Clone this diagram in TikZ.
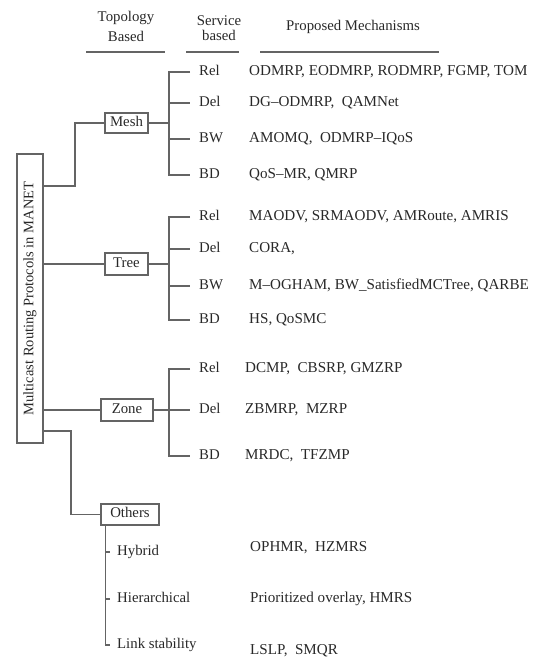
\documentclass[tikz,border=0pt]{standalone}
\usepackage{fontspec}
\setmainfont{Liberation Serif}
\definecolor{lc}{RGB}{100,100,100}
\definecolor{txt}{RGB}{40,40,40}
\begin{document}
\begin{tikzpicture}[x=1pt,y=-1pt,
  every node/.style={font=\fontsize{14.8}{17}\selectfont, text=txt},
  ln/.style={draw=lc, line width=1.2pt},
  lab/.style={inner sep=0pt, anchor=west, text height=0.662em, text depth=0pt},
  mech/.style={lab, font=\fontsize{15.1}{17}\selectfont},
  box/.style={draw=lc, line width=1.2pt, inner sep=0pt, text height=0.662em, text depth=0pt, minimum height=21pt},
]
\useasboundingbox (0,0) rectangle (536,660);

% header
\node[align=center, font=\fontsize{14.8}{20}\selectfont] (htop) at (126,26) {Topology\\Based};
\node[align=center, font=\fontsize{14.8}{15}\selectfont] (hserv) at (219,28.4) {Service\\based};
\node[lab, anchor=center] (hprop) at (353,27) {Proposed Mechanisms};
\draw[ln] (86,52) -- (165,52);
\draw[ln] (186,52) -- (239,52);
\draw[ln] (260,52) -- (439,52);

% root
\node[box, rotate=90, minimum width=289pt, minimum height=26pt, font=\fontsize{14.5}{17}\selectfont] (root) at (30,298.5) {Multicast Routing Protocols in MANET};

% level boxes
\node[box, minimum width=43pt, minimum height=20pt] (mesh) at (126.5,123) {Mesh};
\node[box, minimum width=43pt, minimum height=22pt] (tree) at (126.5,264) {Tree};
\node[box, minimum width=52pt, minimum height=22pt] (zone) at (127,410) {Zone};
\node[box, minimum width=58pt, minimum height=21pt] (others) at (130,514.5) {Others};

\coordinate (m1) at (75,186);
\coordinate (o1) at (71,431);
\coordinate (mb) at (169,123);
\coordinate (tb) at (169,264);
\coordinate (zb) at (169,410);
\coordinate (ob) at ([xshift=5pt]others.south west);

\draw[ln] (root.south |- m1) -- (m1) |- (mesh.west);
\draw[ln] (root.south |- tree) -- (tree.west);
\draw[ln] (root.south |- zone) -- (zone.west);
\draw[ln] (root.south |- o1) -- (o1) |- (others.west);

% Mesh
\node[lab] (mrel) at (199,72) {Rel};
\node[lab] (mdel) at (199,103) {Del};
\node[lab] (mbw) at (199,139) {BW};
\node[lab] (mbd) at (199,175) {BD};
\node[mech] (mrelp) at (249,72) {ODMRP, EODMRP, RODMRP, FGMP, TOM};
\node[mech] (mdelp) at (249,103) {DG–ODMRP, \ QAMNet};
\node[mech] (mbwp) at (249,139) {AMOMQ, \ ODMRP–IQoS};
\node[mech] (mbdp) at (249,175) {QoS–MR, QMRP};
\draw[ln] (mesh.east) -- (mb);
\draw[ln] ([xshift=-9pt]mrel.west) -- (mb |- mrel) -- (mb |- mbd) -- ([xshift=-9pt]mbd.west);
\draw[ln] (mb |- mdel) -- ([xshift=-9pt]mdel.west);
\draw[ln] (mb |- mbw) -- ([xshift=-9pt]mbw.west);

% Tree
\node[lab] (trel) at (199,217) {Rel};
\node[lab] (tdel) at (199,249) {Del};
\node[lab] (tbw) at (199,286) {BW};
\node[lab] (tbd) at (199,320) {BD};
\node[mech] (trelp) at (249,217) {MAODV, SRMAODV, AMRoute, AMRIS};
\node[mech] (tdelp) at (249,249) {CORA,};
\node[mech] (tbwp) at (249,286) {M–OGHAM, BW\_SatisfiedMCTree, QARBE};
\node[mech] (tbdp) at (249,320) {HS, QoSMC};
\draw[ln] (tree.east) -- (tb);
\draw[ln] ([xshift=-9pt]trel.west) -- (tb |- trel) -- (tb |- tbd) -- ([xshift=-9pt]tbd.west);
\draw[ln] (tb |- tdel) -- ([xshift=-9pt]tdel.west);
\draw[ln] (tb |- tbw) -- ([xshift=-9pt]tbw.west);

% Zone
\node[lab] (zrel) at (199,369) {Rel};
\node[lab] (zdel) at (199,410) {Del};
\node[lab] (zbd) at (199,456) {BD};
\node[mech] (zrelp) at (245,369) {DCMP, \ CBSRP, GMZRP};
\node[mech] (zdelp) at (245,410) {ZBMRP, \ MZRP};
\node[mech] (zbdp) at (245,456) {MRDC, \ TFZMP};
\draw[ln] (zone.east) -- ([xshift=-9pt]zdel.west);
\draw[ln] ([xshift=-9pt]zrel.west) -- (zb |- zrel) -- (zb |- zbd) -- ([xshift=-9pt]zbd.west);

% Others
\node[lab] (hyb) at (117,552) {Hybrid};
\node[lab] (hier) at (117,599) {Hierarchical};
\node[lab] (lstab) at (117,645) {Link stability};
\node[mech] (hybp) at (250,548) {OPHMR, \ HZMRS};
\node[mech] (hierp) at (250,599) {Prioritized overlay, HMRS};
\node[mech] (lstabp) at (250,651) {LSLP, \ SMQR};
\draw[ln] (ob) -- (ob |- lstab) -- ([xshift=-7pt]lstab.west);
\draw[ln] (ob |- hyb) -- ([xshift=-7pt]hyb.west);
\draw[ln] (ob |- hier) -- ([xshift=-7pt]hier.west);
\end{tikzpicture}
\end{document}
